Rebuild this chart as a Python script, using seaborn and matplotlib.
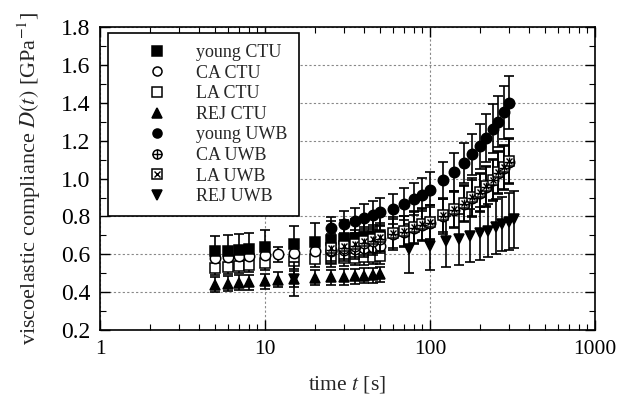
import matplotlib
matplotlib.use("Agg")
import matplotlib.pyplot as plt
import seaborn as sns
from matplotlib.legend_handler import HandlerTuple
from matplotlib.lines import Line2D
from matplotlib.ticker import FixedLocator, LogLocator, MultipleLocator, NullFormatter

# time points [s]
T_YOUNG_CTU = [5, 6, 7, 8, 10, 15, 20, 25, 30, 35, 40, 45, 50]
T_CA_CTU = [5, 6, 7, 8, 10, 12, 15, 20, 25, 30, 35, 40, 45, 50]
T_LA_CTU = [5, 6, 7, 8, 10, 15, 20, 25, 30, 35, 40, 45, 50]
T_REJ_CTU = [5, 6, 7, 8, 10, 12, 15, 20, 25, 30, 35, 40, 45, 50]
T_UWB = [25, 30, 35, 40, 45, 50, 60, 70, 80, 90, 100,
         120, 140, 160, 180, 200, 220, 240, 260, 280, 300]
T_REJ_UWB = [15, 75, 100, 125, 150, 175, 200, 225, 250, 275, 300, 325]

# compliance D(t) [1/GPa] and error bars
D_YOUNG_CTU = [0.615, 0.62, 0.625, 0.63, 0.64, 0.655, 0.665, 0.675, 0.68, 0.685, 0.69, 0.695, 0.70]
E_YOUNG_CTU = [0.08, 0.08, 0.085, 0.085, 0.09, 0.095, 0.10, 0.10, 0.10, 0.10, 0.10, 0.10, 0.10]
D_CA_CTU = [0.58, 0.585, 0.59, 0.59, 0.595, 0.60, 0.605, 0.615, 0.62, 0.625, 0.63, 0.635, 0.64, 0.645]
E_CA_CTU = [0.04] * 14
D_LA_CTU = [0.53, 0.535, 0.54, 0.545, 0.555, 0.565, 0.573, 0.575, 0.58, 0.582, 0.585, 0.588, 0.59]
E_LA_CTU = [0.04] * 13
D_REJ_CTU = [0.44, 0.445, 0.45, 0.452, 0.458, 0.465, 0.47, 0.476, 0.478, 0.48, 0.483, 0.486, 0.49, 0.494]
E_REJ_CTU = [0.04] * 14

D_YOUNG_UWB = [0.738, 0.762, 0.777, 0.794, 0.808, 0.824, 0.84, 0.866, 0.892, 0.916, 0.942,
               0.99, 1.037, 1.083, 1.128, 1.17, 1.214, 1.264, 1.30, 1.35, 1.40]
E_YOUNG_UWB = [0.06, 0.065, 0.07, 0.07, 0.075, 0.075, 0.08, 0.082, 0.085, 0.088, 0.092,
               0.097, 0.10, 0.105, 0.11, 0.12, 0.125, 0.13, 0.135, 0.14, 0.14]
D_CA_UWB = [0.625, 0.635, 0.645, 0.66, 0.67, 0.68, 0.705, 0.72, 0.74, 0.755, 0.768,
            0.80, 0.835, 0.865, 0.895, 0.925, 0.955, 0.99, 1.03, 1.055, 1.09]
E_CA_UWB = [0.07, 0.07, 0.07, 0.075, 0.075, 0.075, 0.08, 0.08, 0.085, 0.085, 0.09,
            0.09, 0.095, 0.095, 0.10, 0.10, 0.105, 0.11, 0.11, 0.115, 0.12]
D_LA_UWB = [0.635, 0.644, 0.656, 0.67, 0.68, 0.692, 0.715, 0.725, 0.746, 0.76, 0.772,
            0.807, 0.84, 0.872, 0.905, 0.93, 0.96, 0.995, 1.035, 1.06, 1.095]
E_LA_UWB = E_CA_UWB
D_REJ_UWB = [0.47, 0.63, 0.645, 0.67, 0.68, 0.698, 0.712, 0.725, 0.745, 0.76, 0.772, 0.785]
E_REJ_UWB = [0.09, 0.13, 0.13, 0.135, 0.135, 0.14, 0.14, 0.14, 0.145, 0.145, 0.15, 0.15]

LABELS = ["young CTU", "CA CTU", "LA CTU", "REJ CTU",
          "young UWB", "CA UWB", "LA UWB", "REJ UWB"]

sns.set_theme(style="ticks")
plt.rcParams["font.family"] = ["Liberation Serif", "DejaVu Serif"]
plt.rcParams["mathtext.fontset"] = "stix"

MS = 7.5
fig = plt.figure(figsize=(6.19, 4.05), dpi=100)
ax = fig.add_axes([0.1616, 0.185, 0.7994, 0.748])


def draw(t, d, e, marker, filled, overlay=None, ov_size=None, z=3):
    ax.errorbar(t, d, yerr=e, fmt="none", ecolor="black", elinewidth=1.2,
                capsize=3.6, capthick=1.2, zorder=z)
    face = "black" if filled else "white"
    ax.plot(t, d, linestyle="none", marker=marker, markersize=MS,
            markerfacecolor=face, markeredgecolor="black", markeredgewidth=1.1,
            zorder=z + 0.5)
    if overlay:
        ax.plot(t, d, linestyle="none", marker=overlay, markersize=ov_size,
                color="black", markeredgewidth=1.0, zorder=z + 0.6)


draw(T_REJ_CTU, D_REJ_CTU, E_REJ_CTU, "^", True)
draw(T_LA_CTU, D_LA_CTU, E_LA_CTU, "s", False)
draw(T_CA_CTU, D_CA_CTU, E_CA_CTU, "o", False)
draw(T_YOUNG_CTU, D_YOUNG_CTU, E_YOUNG_CTU, "s", True)
draw(T_REJ_UWB, D_REJ_UWB, E_REJ_UWB, "v", True, z=4)
draw(T_UWB, D_CA_UWB, E_CA_UWB, "o", False, "+", MS, z=4)
draw(T_UWB, D_LA_UWB, E_LA_UWB, "s", False, "x", MS * 0.6, z=4)
draw(T_UWB, D_YOUNG_UWB, E_YOUNG_UWB, "o", True, z=5)

ax.set_xscale("log")
ax.set_xlim(1, 1000)
ax.set_ylim(0.2, 1.8)
ax.xaxis.set_major_locator(FixedLocator([1, 10, 100, 1000]))
ax.xaxis.set_minor_locator(LogLocator(base=10, subs=range(2, 10)))
ax.xaxis.set_minor_formatter(NullFormatter())
ax.set_xticklabels(["1", "10", "100", "1000"])
ax.yaxis.set_major_locator(MultipleLocator(0.2))
ax.yaxis.set_minor_locator(MultipleLocator(0.1))
ax.set_yticklabels([f"{v:.1f}" for v in ax.get_yticks()])

ax.tick_params(which="both", direction="in", top=True, right=True, colors="black")
ax.tick_params(which="major", length=7, width=1.0)
ax.tick_params(axis="x", which="major", labelsize=15.5, pad=7)
ax.tick_params(axis="y", which="major", labelsize=17, pad=7)
ax.tick_params(which="minor", length=4, width=0.8)
ax.grid(True, which="major", linestyle=(0, (2, 2)), color="#888888", linewidth=0.8)
for sp in ax.spines.values():
    sp.set_color("black")
    sp.set_linewidth(1.2)

ax.set_xlabel(r"time $t$ [s]", fontsize=15.5, labelpad=11)
ax.set_ylabel(r"viscoelastic compliance $D(t)$ [GPa$^{-1}$]", fontsize=16, labelpad=13)


def mk(marker, filled, size=MS):
    return Line2D([], [], linestyle="none", marker=marker, markersize=size,
                  markerfacecolor="black" if filled else "white",
                  markeredgecolor="black", markeredgewidth=1.1)


LMS = 6.5
handles = [
    mk("s", True, LMS), mk("o", False, LMS), mk("s", False, LMS), mk("^", True, LMS),
    mk("o", True, LMS),
    (mk("o", False, LMS), Line2D([], [], linestyle="none", marker="+", markersize=LMS,
                                 color="black", markeredgewidth=1.0)),
    (mk("s", False, LMS), Line2D([], [], linestyle="none", marker="x", markersize=LMS * 0.6,
                                 color="black", markeredgewidth=1.0)),
    mk("v", True, LMS),
]
leg = ax.legend(handles, LABELS, loc="upper left", bbox_to_anchor=(0.016, 0.98),
                borderaxespad=0, fontsize=13, frameon=True, fancybox=False,
                handlelength=4.2, handletextpad=0.1, borderpad=0.6, labelspacing=0.2,
                handler_map={tuple: HandlerTuple(ndivide=1, pad=0)})
leg.get_frame().set_edgecolor("black")
leg.get_frame().set_linewidth(1.2)
leg.get_frame().set_alpha(1)
leg.set_zorder(10)

fig.savefig("out.png", dpi=100)
